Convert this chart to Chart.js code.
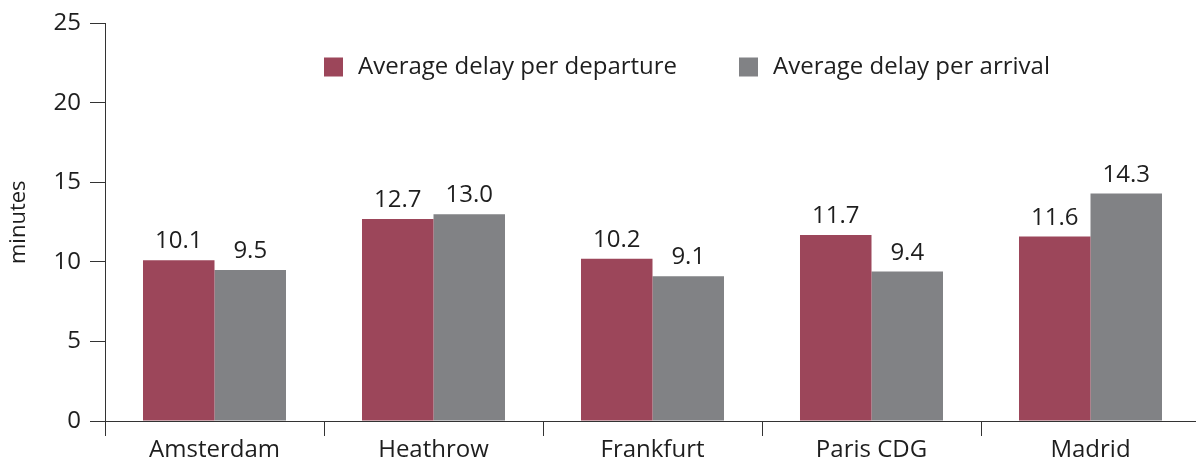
<!DOCTYPE html>
<html>
<head>
<meta charset="utf-8">
<script src="https://cdn.jsdelivr.net/npm/chart.js@4/dist/chart.umd.min.js"></script>
<style>
html,body{margin:0;padding:0;background:#fff;overflow:hidden;}
#wrap{width:1196px;height:460px;position:relative;overflow:hidden;}
</style>
</head>
<body>
<div id="wrap"><canvas id="c" width="1200" height="460"></canvas></div>
<script>
const categories = ["Amsterdam", "Heathrow", "Frankfurt", "Paris CDG", "Madrid"];
const departureDelay = [10.1, 12.7, 10.2, 11.7, 11.6];
const arrivalDelay = [9.5, 13.0, 9.1, 9.4, 14.3];
const seriesNames = ["Average delay per departure", "Average delay per arrival"];
const yTicks = [0, 5, 10, 15, 20, 25];

const RED = "#9c465a";
const GREY = "#818285";
const FONT = "'Open Sans', 'Liberation Sans', sans-serif";
const W = "400";
const TXT = "#1e1e1e";
const AX = "#333333";

const valueLabels = {
  id: "valueLabels",
  afterDatasetsDraw(chart) {
    const ctx = chart.ctx;
    ctx.save();
    ctx.font = W + " 24px " + FONT;
    ctx.fillStyle = TXT;
    ctx.textAlign = "center";
    ctx.textBaseline = "alphabetic";
    chart.data.datasets.forEach((ds, i) => {
      chart.getDatasetMeta(i).data.forEach((bar, j) => {
        ctx.fillText(ds.data[j].toFixed(1), bar.x, bar.y - 12);
      });
    });
    ctx.restore();
  }
};

const innerLegend = {
  id: "innerLegend",
  afterDraw(chart) {
    const ctx = chart.ctx;
    ctx.save();
    ctx.font = W + " 24px " + FONT;
    ctx.textBaseline = "middle";
    ctx.textAlign = "left";
    const xs = [324, 739];
    const y = 67;
    chart.data.datasets.forEach((ds, i) => {
      ctx.fillStyle = ds.backgroundColor;
      ctx.fillRect(xs[i], y - 9.5, 19, 19);
      ctx.fillStyle = TXT;
      ctx.fillText(ds.label, xs[i] + 34, y);
    });
    ctx.restore();
  }
};

new Chart(document.getElementById("c"), {
  type: "bar",
  data: {
    labels: categories,
    datasets: [
      { label: seriesNames[0], data: departureDelay, backgroundColor: RED },
      { label: seriesNames[1], data: arrivalDelay, backgroundColor: GREY }
    ]
  },
  options: {
    responsive: false,
    animation: false,
    devicePixelRatio: 1,
    layout: { padding: { top: 22, right: 0, left: 0, bottom: 0 } },
    datasets: { bar: { categoryPercentage: 0.653, barPercentage: 1.0 } },
    plugins: { legend: { display: false }, tooltip: { enabled: false } },
    scales: {
      x: {
        grid: { display: true, drawOnChartArea: false, drawTicks: true, tickLength: 15, color: AX, lineWidth: 1, offset: true },
        border: { display: true, color: AX, width: 1 },
        ticks: { color: TXT, font: { family: FONT, size: 24, weight: W }, padding: 0, maxRotation: 0 },
        afterFit(s) { s.height = 39; }
      },
      y: {
        min: 0, max: 25,
        afterBuildTicks(s) { s.ticks = yTicks.map(v => ({ value: v })); },
        grid: { display: true, drawOnChartArea: false, drawTicks: true, tickLength: 15, color: AX, lineWidth: 1 },
        border: { display: true, color: AX, width: 1 },
        ticks: { color: TXT, font: { family: FONT, size: 24, weight: W }, padding: 9 },
        title: { display: true, text: "minutes", color: TXT, font: { family: FONT, size: 22, weight: W }, padding: { top: 6, bottom: 0 } },
        afterFit(s) { s.width = 105; }
      }
    }
  },
  plugins: [valueLabels, innerLegend]
});
</script>
</body>
</html>
